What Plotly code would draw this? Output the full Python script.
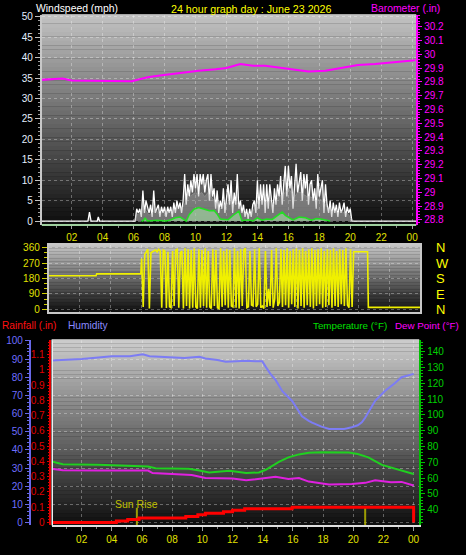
import plotly.graph_objects as go

W, H = 466, 555

# ---------------- data ----------------
hour_ticks = [2, 4, 6, 8, 10, 12, 14, 16, 18, 20, 22, 24]
hour_labels = ["02", "04", "06", "08", "10", "12", "14", "16", "18", "20", "22", "00"]

# Barometer (in)
baro_hours = [0, 1.0, 1.4, 2, 3, 4, 5, 5.9, 6.5, 7.0, 7.7, 8.5, 9.4, 10.2, 11.3, 12.0, 12.9,
              13.7, 14.5, 15.2, 16.2, 17.3, 18.4, 19.7, 20.5, 21.6, 22.7, 23.5, 24.2]
baro_values = [29.814, 29.818, 29.824, 29.810, 29.808, 29.809, 29.808, 29.805, 29.822, 29.835,
               29.845, 29.857, 29.869, 29.881, 29.891, 29.900, 29.929, 29.916, 29.916, 29.905,
               29.891, 29.874, 29.881, 29.909, 29.921, 29.929, 29.941, 29.952, 29.957]

# Wind gust (mph): quiet part, then 0.1 h readings from 06.0 to 20.1
gust_quiet_hours = [0.0, 3.05, 3.15, 3.25, 3.65, 3.72, 3.8]
gust_quiet_values = [0, 0, 2.2, 0, 0, 1.0, 0]
gust_start = 6.0
gust_values = [
    0, 0, 3, 2, 3, 1, 7.5, 2, 5, 3,
    2, 4, 1, 7.5, 2, 3, 4, 1, 3.5, 2,
    3.5, 1, 3.5, 2, 3.5, 1, 4.5, 2, 5, 3,
    4.5, 2, 5, 11.5, 4, 9, 6, 10, 7, 11.5,
    8, 11.5, 6, 11.5, 9, 11.5, 7, 10, 11.5, 5,
    11.5, 6, 8, 3, 7.5, 2, 5, 3, 8, 2,
    6, 9, 4, 10, 2, 7, 4, 11.5, 3, 5,
    2, 4, 1, 3, 0.5, 3, 1, 4, 5, 2,
    10, 3, 9, 4, 9, 2, 9, 3, 9, 5,
    2, 8, 4, 9, 6, 11, 4, 9, 13.5, 6,
    13.5, 8, 11, 3, 9, 14, 7, 10, 12, 5,
    11.5, 8, 11.5, 4, 9, 10, 5, 8, 3, 11.5,
    6, 8, 10, 2, 9, 4, 2, 5, 1, 4.5,
    2, 4, 1, 4.5, 2, 3, 4.5, 1, 3.5, 2,
    3, 0,
]
gust_end_hours = [20.2, 24.3]
gust_end_values = [0, 0]

# Average wind speed (mph), 0.2 h readings from 06.0 to 20.2
speed_start = 6.0
speed_values = [
    0, 1.5, 2, 3, 2.5, 1.5, 2, 3, 2, 2,
    2.5, 2, 2.5, 2.5, 3, 3, 3.5, 5, 6, 6.5,
    7, 6.5, 7, 6, 7, 6, 5, 4, 3, 4,
    4, 5, 4, 5, 4, 2, 2, 1.5, 2, 3,
    5, 5, 5, 4.5, 5, 4, 5, 6, 6.5, 7,
    8, 7, 6, 7, 7, 6.5, 6, 6, 5.5, 5,
    5.5, 5, 4, 3, 2.5, 2.5, 2, 2.5, 2, 2,
    1, 0,
]

# 10-minute average wind (mph)
avg_hours = [6.5, 6.6, 6.74, 6.9, 7.5, 8.1, 8.4, 8.7, 9.0, 9.4, 9.6, 9.9, 10.2, 10.55, 10.9,
             11.2, 11.4, 11.6, 12.1, 12.4, 12.8, 13.0, 13.4, 13.7, 14.0, 14.3, 14.6, 14.95,
             15.6, 15.8, 16.3, 16.7, 17.1, 17.5, 17.8, 18.1, 18.4, 18.6, 18.7]
avg_values = [0, 0, 0.7, 0, 0.2, 0, 0.3, 0.8, 1.0, 0, 1.6, 2.9, 3.3, 2.9, 2.5,
              2.6, 1.7, 0.5, 0.3, 1.3, 2.4, 0.1, 0.3, 0, 0.8, 0.2, 0.5, 0.4,
              2.2, 1.4, 0.3, 1.0, 0.8, 0.2, 0.6, 0.5, 0.3, 0.2, 0]

# Wind direction (deg)
dir_quiet_hours = [0, 3.05, 3.1, 5.95]
dir_quiet_values = [196, 196, 207, 207]
dir_start = 6.0
dir_values = [
    296, 15, 320, 335, 350, 5, 330, 335, 340, 345,
    335, 350, 340, 10, 345, 340, 8, 335, 15, 10,
    340, 20, 345, 350, 10, 330, 340, 5, 355, 20,
    350, 5, 345, 10, 355, 15, 5, 350, 10, 345,
    20, 355, 10, 340, 15, 5, 350, 20, 345, 10,
    5, 355, 15, 340, 25, 350, 10, 345, 20, 15,
    355, 10, 340, 5, 350, 20, 345, 355, 10, 15,
    340, 25, 20, 350, 15, 30, 355, 10, 20, 5,
    340, 15, 120, 20, 345, 10, 60, 355, 20, 40,
    350, 15, 345, 25, 355, 10, 340, 30, 350, 15,
    355, 5, 345, 20, 355, 10, 340, 25, 350, 15,
    355, 5, 345, 20, 350, 30, 355, 10, 340, 15,
    350, 25, 345, 10, 355, 20, 340, 15, 350, 30,
    345, 20, 355, 25, 10, 350, 15, 335, 335, 335,
    335, 335, 335, 335, 335, 335, 335,
]
dir_end_hours = [20.65, 24.0]
dir_end_values = [12, 12]
compass_vals = [0, 90, 180, 270, 360]
compass_text = ["N", "E", "S", "W", "N"]

# Humidity (%)
hum_hours = [0, 1.2, 2.0, 2.75, 4.0, 5.2, 6.05, 6.5, 7.0, 7.8, 8.8, 9.8, 10.2, 11.0, 11.55,
             12.3, 12.87, 13.5, 13.97, 14.19, 14.5, 14.85, 15.3, 15.95, 16.4, 16.6, 17.05,
             17.27, 17.9, 18.4, 18.8, 19.4, 19.9, 20.3, 20.57, 20.8, 21.45, 22.1, 22.77,
             23.2, 24.0]
hum_values = [89.2, 89.5, 90.0, 90.5, 91.5, 91.5, 92.6, 91.5, 91.2, 90.7, 90.5, 91.2, 90.3,
              89.5, 88.5, 88.8, 89.0, 88.8, 88.8, 85.8, 82.0, 78.5, 72.3, 66.9, 61.5, 58.5,
              56.0, 55.0, 52.8, 51.5, 51.5, 51.5, 52.4, 53.5, 55.1, 57.8, 67.0, 72.4, 76.8,
              80.0, 81.8]

# Temperature (F)
temp_hours = [0, 0.75, 3.1, 5.3, 6.4, 6.9, 8.2, 9.1, 9.8, 10.45, 11.8, 12.9, 13.75, 14.2,
              15.1, 15.7, 16.4, 17.05, 17.9, 19.7, 20.3, 21.0, 21.9, 22.98, 24.0]
temp_values = [70.5, 68.8, 68.4, 67.8, 67.3, 66.3, 65.9, 65.9, 64.8, 63.6, 64.6, 63.2, 63.6,
               65.3, 70.4, 73.1, 75.0, 76.0, 76.4, 76.2, 75.2, 73.1, 68.4, 65.3, 62.6]

# Dew point (F)
dew_hours = [0, 0.75, 3.1, 5.8, 6.4, 6.7, 8.0, 9.3, 10.2, 12.0, 12.9, 14.0, 14.85, 15.7,
             16.4, 17.05, 18.4, 19.9, 20.8, 21.45, 22.5, 23.2, 24.0]
dew_values = [65.9, 65.0, 64.8, 64.6, 64.8, 63.2, 62.6, 62.0, 60.1, 59.8, 58.6, 59.8, 60.8,
              59.5, 60.1, 57.8, 55.9, 56.3, 57.0, 58.6, 57.4, 57.6, 55.3]

# Rainfall (in), cumulative
rain_hours = [0, 4.3, 5.05, 5.8, 8.9, 9.7, 10.2, 11.4, 12.0, 12.8, 15.95, 24.0, 24.0]
rain_values = [0, 0.01, 0.02, 0.03, 0.04, 0.05, 0.06, 0.07, 0.08, 0.09, 0.10, 0.10, 0.0]

# Sun events (hour)
sunrise_hour = 5.66
sunset_hour = 20.79

# ---------------- helpers ----------------
def fx(px):
    return px / W


def fy(py):
    return 1 - py / H


P1 = (42, 418, 10, 224)
P2 = (49, 422, 244, 313)
P3 = (52, 421, 341, 530)

gust_hours = gust_quiet_hours + [round(gust_start + 0.1 * i, 2) for i in range(len(gust_values))] + gust_end_hours
gust_all = gust_quiet_values + gust_values + gust_end_values
speed_hours = [round(speed_start + 0.2 * i, 2) for i in range(len(speed_values))]
dir_hours = dir_quiet_hours + [round(dir_start + 0.1 * i, 2) for i in range(len(dir_values))] + dir_end_hours
dir_all = dir_quiet_values + dir_values + dir_end_values

FONT = "Liberation Sans, Arial, sans-serif"
YEL = "#e0e000"

fig = go.Figure()

# ----- panel 1 -----
fig.add_trace(go.Scatter(x=gust_hours, y=gust_all, xaxis="x", yaxis="y", mode="lines",
                         line=dict(color="#ffffff", width=1.3), fill="tozeroy",
                         fillcolor="rgba(230,230,230,0.30)", hoverinfo="skip"))
fig.add_trace(go.Scatter(x=speed_hours, y=speed_values, xaxis="x", yaxis="y", mode="lines",
                         line=dict(color="rgba(190,190,190,0.6)", width=0.5), fill="tozeroy",
                         fillcolor="rgba(170,170,170,0.40)", hoverinfo="skip"))
fig.add_trace(go.Scatter(x=avg_hours, y=avg_values, xaxis="x", yaxis="y", mode="lines",
                         line=dict(color="#22e022", width=1.5), fill="tozeroy",
                         fillcolor="rgba(170,235,170,0.55)", hoverinfo="skip"))
fig.add_trace(go.Scatter(x=baro_hours, y=baro_values, xaxis="x", yaxis="y2", mode="lines",
                         line=dict(color="#ff00ff", width=2), hoverinfo="skip"))

# ----- panel 2 -----
fig.add_trace(go.Scatter(x=dir_hours, y=dir_all, xaxis="x2", yaxis="y3", mode="lines",
                         line=dict(color="#f0f000", width=1.6), hoverinfo="skip"))
fig.add_trace(go.Scatter(x=[12], y=[180], xaxis="x2", yaxis="y7", mode="markers",
                         marker=dict(opacity=0), hoverinfo="skip"))

# ----- panel 3 -----
fig.add_trace(go.Scatter(x=hum_hours, y=hum_values, xaxis="x3", yaxis="y4", mode="lines",
                         line=dict(color="#7c7cf4", width=2), hoverinfo="skip"))
fig.add_trace(go.Scatter(x=temp_hours, y=temp_values, xaxis="x3", yaxis="y6", mode="lines",
                         line=dict(color="#20d020", width=2), hoverinfo="skip"))
fig.add_trace(go.Scatter(x=dew_hours, y=dew_values, xaxis="x3", yaxis="y6", mode="lines",
                         line=dict(color="#e020e0", width=2), hoverinfo="skip"))
for h in (sunrise_hour, sunset_hour):
    fig.add_trace(go.Scatter(x=[h, h], y=[-0.03, 0.097], xaxis="x3", yaxis="y5", mode="lines",
                             line=dict(color="rgba(180,180,0,0.85)", width=2), hoverinfo="skip"))
fig.add_trace(go.Scatter(x=rain_hours, y=rain_values, xaxis="x3", yaxis="y5", mode="lines",
                         line=dict(color="#ff0000", width=3, shape="hv"), hoverinfo="skip"))

# ----- background gradients -----
shapes = []


def gradient(p, top, bot, n=48):
    x0, x1, y0, y1 = p
    for i in range(n):
        t = (i + 0.5) / n
        c = int(round(top + (bot - top) * t))
        ya = y0 + (y1 - y0) * i / n
        yb = y0 + (y1 - y0) * (i + 1) / n
        shapes.append(dict(type="rect", xref="paper", yref="paper", x0=fx(x0), x1=fx(x1),
                           y0=fy(yb), y1=fy(ya) + 0.0005, line=dict(width=0),
                           fillcolor=f"rgb({c},{c},{c})", layer="below"))


gradient(P1, 195, 12)
gradient(P2, 200, 14)
gradient(P3, 205, 14)


def line(x0, y0, x1, y1, color, width=1):
    shapes.append(dict(type="line", xref="paper", yref="paper", x0=fx(x0), x1=fx(x1),
                       y0=fy(y0), y1=fy(y1), line=dict(color=color, width=width), layer="above"))


line(42, 10, 418, 10, "#c8c8c8", 1)
line(42, 224, 418, 224, "#9ed09e", 2)
line(52.5, 341, 52.5, 530, "#f0f0f0", 1.5)
line(52, 341, 421, 341, "#c8c8c8", 1)

grid_col = "rgba(255,255,255,0.32)"

# ----- annotations -----
ann = []


def text(s, x, y, color, size=10.4, xanchor="left"):
    ann.append(dict(text=s, x=fx(x), y=fy(y), xref="paper", yref="paper", showarrow=False,
                    xanchor=xanchor, yanchor="middle", font=dict(color=color, size=size, family=FONT)))


text("Windspeed (mph)", 34, 4, "#ffffff")
text("24 hour graph day : June 23 2026", 252, 4, "#ffff00", size=10.7, xanchor="center")
text("Barometer (.in)", 371, 4, "#ff00ff")
text("Rainfall (.in)", 0, 326, "#ff1010", size=10.2)
text("Humidity", 66, 326, "#8a8aff", size=10.2)
text("Temperature (°F)", 391, 326, "#00e000", size=9.8, xanchor="right")
text("Dew Point (°F)", 463, 326, "#ff00ff", size=9.8, xanchor="right")
ann.append(dict(text="Sun Rise", x=sunrise_hour, y=0.124, xref="x3", yref="y5", showarrow=False,
                xanchor="center", yanchor="middle", font=dict(color="#c0c000", size=10.5, family=FONT)))

tf = dict(family=FONT, size=10)

fig.update_layout(
    width=W, height=H, margin=dict(l=0, r=0, t=0, b=0),
    paper_bgcolor="#000000", plot_bgcolor="rgba(0,0,0,0)",
    showlegend=False, shapes=shapes, annotations=ann,
    font=dict(family=FONT, size=10),
    xaxis=dict(domain=[fx(P1[0]), fx(P1[1])], range=[0.07, 24.26], anchor="y",
               tickvals=hour_ticks, ticktext=hour_labels, tickfont=dict(tf, color=YEL),
               ticks="outside", ticklen=3, tickcolor="#a0a0a0",
               minor=dict(dtick=1, ticklen=2, tickcolor="#808080", showgrid=False),
               showgrid=True, gridcolor=grid_col, griddash="dot", zeroline=False,
               showline=False),
    yaxis=dict(domain=[fy(P1[3]), fy(P1[2])], range=[-0.96, 50.5], anchor="x",
               dtick=5, tick0=0, tickfont=dict(tf, color="#e4eeff"),
               ticks="outside", ticklen=5, tickcolor="#c0c0c0",
               minor=dict(dtick=1, ticklen=2, tickcolor="#a0a0a0", showgrid=False),
               showgrid=True, gridcolor=grid_col, griddash="dot", zeroline=False,
               showline=True, linecolor="#c8c8c8", linewidth=2),
    yaxis2=dict(range=[28.764, 30.285], overlaying="y", side="right", anchor="x",
                dtick=0.1, tick0=28.8, tickfont=dict(tf, color="#ff00ff"),
                ticks="outside", ticklen=4, tickcolor="#ff00ff",
                minor=dict(dtick=0.02, ticklen=2, tickcolor="#ff00ff", showgrid=False),
                showgrid=False, zeroline=False,
                showline=True, linecolor="#ff00ff", linewidth=2),
    xaxis2=dict(domain=[fx(P2[0]), fx(P2[1])], range=[0, 24], anchor="y3",
                tickvals=hour_ticks, showticklabels=False, ticks="",
                showgrid=True, gridcolor=grid_col, griddash="dot", zeroline=False,
                showline=True, linecolor="#c8c8c8", linewidth=1.5, mirror=True),
    yaxis3=dict(domain=[fy(P2[3]), fy(P2[2])], range=[-17, 377], anchor="x2",
                tickvals=compass_vals, tickfont=dict(tf, color=YEL),
                ticks="outside", ticklen=5, tickcolor="#d0d000",
                minor=dict(dtick=30, ticklen=3, tickcolor="#d0d000", showgrid=False),
                showgrid=True, gridcolor=grid_col, griddash="dot", zeroline=False,
                showline=True, linecolor="#c8c8c8", linewidth=2, mirror=True),
    yaxis7=dict(range=[-17, 377], overlaying="y3", anchor="free", position=fx(437), side="right",
                tickvals=compass_vals, ticktext=compass_text,
                tickfont=dict(family=FONT, size=13, color="#ffff00"),
                ticks="", showgrid=False, zeroline=False, showline=False),
    xaxis3=dict(domain=[fx(P3[0]), fx(P3[1])], range=[0.02, 24.37], anchor="y6",
                tickvals=hour_ticks, ticktext=hour_labels, tickfont=dict(tf, color=YEL),
                ticks="outside", ticklen=4, tickcolor="#a0a0a0",
                minor=dict(dtick=1, ticklen=2, tickcolor="#808080", showgrid=False),
                showgrid=True, gridcolor=grid_col, griddash="dot", zeroline=False,
                showline=True, linecolor="#e0e0e0", linewidth=1.5),
    yaxis4=dict(domain=[fy(P3[3]), fy(P3[2])], range=[-1.62, 100.54], anchor="free",
                position=fx(30), side="left", dtick=10, tick0=0,
                tickfont=dict(tf, color="#6e6eff"),
                ticks="outside", ticklen=4, tickcolor="#6868e8",
                minor=dict(dtick=2, ticklen=2, tickcolor="#6868e8", showgrid=False),
                showgrid=True, gridcolor=grid_col, griddash="dot", zeroline=False,
                showline=True, linecolor="#6868e8", linewidth=2),
    yaxis5=dict(range=[-0.0193, 1.196], overlaying="y4", anchor="free", position=fx(50.5),
                side="left", dtick=0.1, tick0=0, tickfont=dict(tf, color="#e00000"),
                ticks="outside", ticklen=3, tickcolor="#e00000",
                minor=dict(dtick=0.02, ticklen=2, tickcolor="#e00000", showgrid=False),
                showgrid=False, zeroline=False,
                showline=True, linecolor="#e00000", linewidth=1.5),
    yaxis6=dict(range=[30.06, 147.45], overlaying="y4", anchor="x3", side="right",
                dtick=10, tick0=0, tickfont=dict(tf, color="#00d000"),
                ticks="outside", ticklen=4, tickcolor="#00c000",
                minor=dict(dtick=2, ticklen=2, tickcolor="#00c000", showgrid=False),
                showgrid=False, zeroline=False,
                showline=True, linecolor="#00c000", linewidth=2),
)

fig.write_html("out.html", config={"displayModeBar": False},
               post_script="document.body.style.margin='0px';")
